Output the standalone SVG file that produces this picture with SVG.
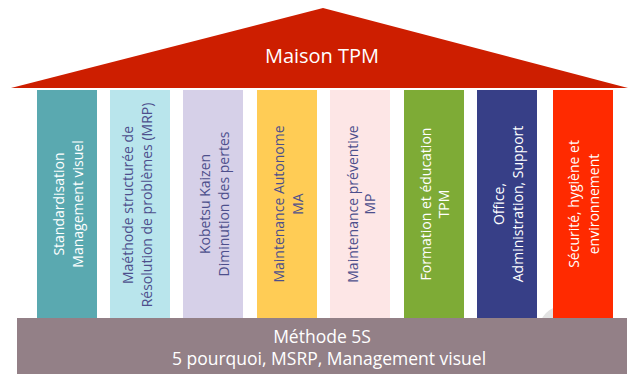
<svg xmlns="http://www.w3.org/2000/svg" width="630" height="374" viewBox="0 0 630 374">
<style>
.t{font-family:"Open Sans","Noto Sans",sans-serif;text-anchor:middle;dominant-baseline:central}
.pl{font-size:14px}
.w{fill:#ffffff}
.d{fill:#4d4f8c}
</style>
<rect width="630" height="374" fill="#ffffff"/>
<circle cx="563" cy="330" r="24" fill="#e2e2e2"/>
<g id="roof">
<polygon points="323,8 628,88 11,88" fill="#cd1e00"/>
<text class="t w" x="322" y="55" font-size="20">Maison TPM</text>
</g>
<g id="pillar1">
<rect x="37" y="90" width="60" height="228" fill="#5aa9b0"/>
<text class="t pl w" transform="translate(67,204) rotate(-90)"><tspan x="0" y="-9.5">Standardisation</tspan><tspan x="0" y="9.5">Management visuel</tspan></text>
</g>
<g id="pillar2">
<rect x="110" y="90" width="60" height="228" fill="#b9e5ec"/>
<text class="t pl d" transform="translate(136,205) rotate(-90)"><tspan x="0" y="-9.5">Maéthode structurée de</tspan><tspan x="0" y="9.5">Résolution de problèmes (MRP)</tspan></text>
</g>
<g id="pillar3">
<rect x="183" y="90" width="60" height="228" fill="#d6d0e8"/>
<text class="t pl d" transform="translate(213,204) rotate(-90)"><tspan x="0" y="-9.5">Kobetsu Kaizen</tspan><tspan x="0" y="9.5">Diminution des pertes</tspan></text>
</g>
<g id="pillar4">
<rect x="257" y="90" width="60" height="228" fill="#ffcc55"/>
<text class="t pl d" transform="translate(287,204) rotate(-90)"><tspan x="0" y="-9.5">Maintenance Autonome</tspan><tspan x="0" y="9.5">MA</tspan></text>
</g>
<g id="pillar5">
<rect x="330" y="90" width="60" height="228" fill="#fde6e6"/>
<text class="t pl d" transform="translate(360,204) rotate(-90)"><tspan x="0" y="-8.5">Maintenance préventive</tspan><tspan x="0" y="8.5">MP</tspan></text>
</g>
<g id="pillar6">
<rect x="404" y="90" width="60" height="228" fill="#7eab36"/>
<text class="t pl w" transform="translate(434,204) rotate(-90)"><tspan x="0" y="-9">Formation et éducation</tspan><tspan x="0" y="9">TPM</tspan></text>
</g>
<g id="pillar7">
<rect x="477" y="90" width="60" height="228" fill="#373f87"/>
<text class="t pl w" transform="translate(507,204) rotate(-90)"><tspan x="0" y="-9.5">Office,</tspan><tspan x="0" y="9.5">Administration, Support</tspan></text>
</g>
<g id="pillar8">
<rect x="553" y="90" width="60" height="228" fill="#ff2a00"/>
<text class="t pl w" transform="translate(583,204) rotate(-90)"><tspan x="0" y="-10">Sécurité, hygiène et</tspan><tspan x="0" y="10">environnement</tspan></text>
</g>
<g id="base">
<rect x="17" y="318" width="610" height="56" fill="#938087"/>
<text class="t w" x="322" y="336" font-size="17.5">Méthode 5S</text>
<text class="t w" x="329" y="358" font-size="17.5">5 pourquoi, MSRP, Management visuel</text>
</g>
<g id="connectors"></g>
</svg>
